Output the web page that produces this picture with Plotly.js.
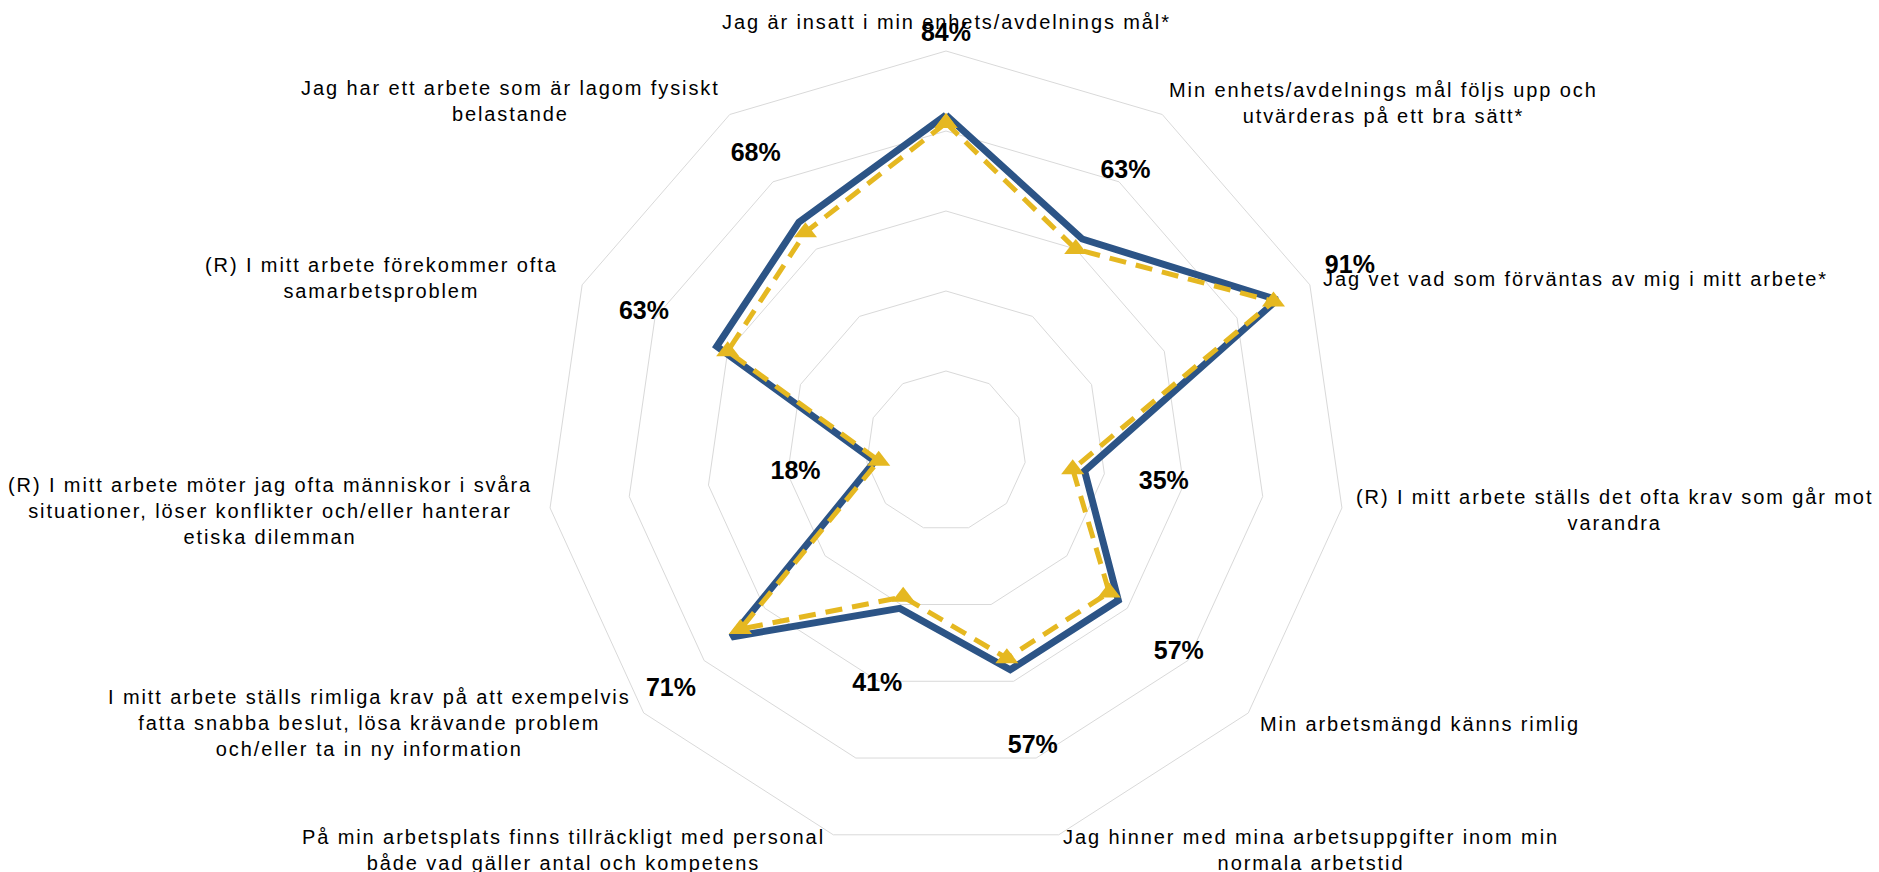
<!DOCTYPE html>
<html>
<head>
<meta charset="utf-8">
<script src="https://cdn.plot.ly/plotly-3.0.1.min.js"></script>
<style>
html, body { margin: 0; padding: 0; background: #ffffff; }
#chart { width: 1879px; height: 872px; }
.annotation-text { letter-spacing: 1.9px; }
</style>
</head>
<body>
<div id="chart"></div>
<script>
// ---- data ----
const categories = [
  "Jag är insatt i min enhets/avdelnings mål*",
  "Min enhets/avdelnings mål följs upp och utvärderas på ett bra sätt*",
  "Jag vet vad som förväntas av mig i mitt arbete*",
  "(R) I mitt arbete ställs det ofta krav som går mot varandra",
  "Min arbetsmängd känns rimlig",
  "Jag hinner med mina arbetsuppgifter inom min normala arbetstid",
  "På min arbetsplats finns tillräckligt med personal både vad gäller antal och kompetens",
  "I mitt arbete ställs rimliga krav på att exempelvis fatta snabba beslut, lösa krävande problem och/eller ta in ny information",
  "(R) I mitt arbete möter jag ofta människor i svåra situationer, löser konflikter och/eller hanterar etiska dilemman",
  "(R) I mitt arbete förekommer ofta samarbetsproblem",
  "Jag har ett arbete som är lagom fysiskt belastande"
];
const categoryLabels = [
  "Jag är insatt i min enhets/avdelnings mål*",
  "Min enhets/avdelnings mål följs upp och<br>utvärderas på ett bra sätt*",
  "Jag vet vad som förväntas av mig i mitt arbete*",
  "(R) I mitt arbete ställs det ofta krav som går mot<br>varandra",
  "Min arbetsmängd känns rimlig",
  "Jag hinner med mina arbetsuppgifter inom min<br>normala arbetstid",
  "På min arbetsplats finns tillräckligt med personal<br>både vad gäller antal och kompetens",
  "I mitt arbete ställs rimliga krav på att exempelvis<br>fatta snabba beslut, lösa krävande problem<br>och/eller ta in ny information",
  "(R) I mitt arbete möter jag ofta människor i svåra<br>situationer, löser konflikter och/eller hanterar<br>etiska dilemman",
  "(R) I mitt arbete förekommer ofta<br>samarbetsproblem",
  "Jag har ett arbete som är lagom fysiskt<br>belastande"
];
const seriesBlue   = [0.84, 0.63, 0.91, 0.35, 0.57, 0.57, 0.41, 0.71, 0.18, 0.63, 0.68];
const seriesYellow = [0.82, 0.60, 0.90, 0.32, 0.54, 0.54, 0.38, 0.68, 0.17, 0.60, 0.65];
const gridValues = [0.2, 0.4, 0.6, 0.8, 1.0];

// ---- layout (positions in px of the 1879x872 canvas) ----
const W = 1879, H = 872;
const R = 400, CX = 946, CY = 451;          // radar centre and radius (px)
const labelPos = [
  [946, 22], [1383, 103], [1575, 279], [1614, 510], [1420, 724],
  [1311, 850], [563, 850], [369, 723], [270, 511], [381, 278], [510, 101]
];
const LABEL_OFFSET = 0.2;                    // value labels sit this far outside the data point

const closeLoop = a => a.concat([a[0]]);
const n = categories.length;
const angleOf = i => i * 2 * Math.PI / n;    // clockwise from top, same as the polar axis

// value labels go on a cartesian overlay sharing the radar's scale (1 unit = R px)
const labelR = seriesBlue.map(v => v + LABEL_OFFSET);

const traces = [
  {
    type: 'scatterpolar',
    r: closeLoop(seriesBlue),
    theta: closeLoop(categories),
    mode: 'lines',
    line: { color: '#2C5486', width: 7 },
    hoverinfo: 'skip',
    showlegend: false
  },
  {
    type: 'scatterpolar',
    r: closeLoop(seriesYellow),
    theta: closeLoop(categories),
    mode: 'lines+markers',
    line: { color: '#E5B821', width: 5, dash: '17px,10px' },
    marker: { symbol: 'triangle-up', size: 20, color: '#E5B821' },
    hoverinfo: 'skip',
    showlegend: false
  },
  {
    type: 'scatter',
    xaxis: 'x', yaxis: 'y',
    x: labelR.map((r, i) => r * Math.sin(angleOf(i))),
    y: labelR.map((r, i) => r * Math.cos(angleOf(i))),
    mode: 'text',
    text: seriesBlue.map(v => Math.round(v * 100) + '%'),
    textposition: 'middle center',
    textfont: { family: 'Liberation Sans, Arial, sans-serif', size: 25, color: '#000000', weight: 'bold' },
    cliponaxis: false,
    hoverinfo: 'skip',
    showlegend: false
  }
];

const layout = {
  width: W, height: H,
  margin: { l: 0, r: 0, t: 0, b: 0, pad: 0 },
  paper_bgcolor: '#ffffff',
  plot_bgcolor: 'rgba(0,0,0,0)',
  showlegend: false,
  font: { family: 'Liberation Sans, Arial, sans-serif', color: '#000000' },
  xaxis: {
    domain: [0, 1], range: [-CX / R, (W - CX) / R],
    visible: false, fixedrange: true
  },
  yaxis: {
    domain: [0, 1], range: [-(H - CY) / R, CY / R],
    visible: false, fixedrange: true
  },
  polar: {
    domain: { x: [(CX - R) / W, (CX + R) / W], y: [(H - CY - R) / H, (H - CY + R) / H] },
    bgcolor: 'rgba(0,0,0,0)',
    gridshape: 'linear',
    radialaxis: {
      range: [0, 1],
      tickvals: gridValues,
      showticklabels: false,
      ticks: '',
      showline: false,
      showgrid: true,
      gridcolor: '#D9D9D9',
      gridwidth: 1
    },
    angularaxis: {
      type: 'category',
      categoryarray: categories,
      rotation: 90,
      direction: 'clockwise',
      showticklabels: false,
      ticks: '',
      showgrid: false,
      showline: true,
      linecolor: '#D9D9D9',
      linewidth: 1
    }
  },
  annotations: categoryLabels.map((t, i) => ({
    text: t,
    xref: 'paper', yref: 'paper',
    x: labelPos[i][0] / W,
    y: 1 - labelPos[i][1] / H,
    xanchor: 'center', yanchor: 'middle',
    align: 'center',
    showarrow: false,
    font: { family: 'Liberation Sans, Arial, sans-serif', size: 20, color: '#000000' }
  }))
};

Plotly.newPlot('chart', traces, layout, { staticPlot: true, displayModeBar: false }).then(gd => {
  // draw the value labels above the radar grid, as in the original
  const svg = gd.querySelector('.main-svg');
  const cart = svg && svg.querySelector('.cartesianlayer');
  const polar = svg && svg.querySelector('.polarlayer');
  if (cart && polar) polar.after(cart);
});
</script>
</body>
</html>
